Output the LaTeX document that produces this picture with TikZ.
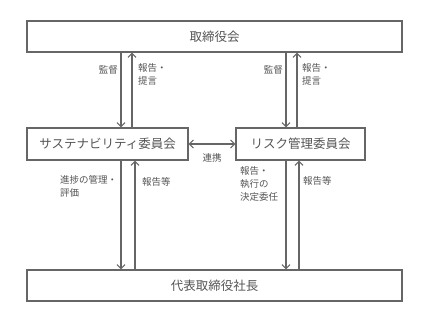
\documentclass[tikz,border=0pt]{standalone}
\usepackage{fontspec}
\setmainfont{Noto Sans CJK JP}
\usetikzlibrary{arrows.meta}
\definecolor{ln}{HTML}{666666}
\definecolor{tx}{HTML}{555555}
\begin{document}
\begin{tikzpicture}[x=1pt,y=-1pt,
  box/.style={draw=ln,line width=1.3pt,fill=white,inner sep=0pt,text=tx,font=\fontsize{12.5}{14}\selectfont},
  lbl/.style={text=tx,font=\fontsize{9.5}{13}\selectfont,inner sep=0pt,align=left},
  arr/.style={draw=ln,line width=1.3pt,-{Straight Barb[length=4pt,width=8pt,line width=1.1pt]}},
  dbl/.style={draw=ln,line width=1.3pt,{Straight Barb[length=4pt,width=8pt,line width=1.1pt]}-{Straight Barb[length=4pt,width=8pt,line width=1.1pt]}}]
\useasboundingbox (0,0) rectangle (428,325);
\node[box,minimum width=375pt,minimum height=31pt] (top) at (214.5,36.5) {取締役会};
\node[box,minimum width=161pt,minimum height=32pt] (sus) at (107.5,144) {サステナビリティ委員会};
\node[box,minimum width=129pt,minimum height=32pt] (risk) at (300.5,144) {リスク管理委員会};
\node[box,minimum width=375pt,minimum height=31pt] (ceo) at (214.5,285.5) {代表取締役社長};
% top to committees
\draw[arr] (top.south -| 121,0) -- (sus.north -| 121,0);
\draw[arr] (sus.north -| 132,0) -- (top.south -| 132,0);
\draw[arr] (top.south -| 286,0) -- (risk.north -| 286,0);
\draw[arr] (risk.north -| 297,0) -- (top.south -| 297,0);
% committees to ceo
\draw[arr] (sus.south -| 121,0) -- (ceo.north -| 121,0);
\draw[arr] (ceo.north -| 135,0) -- (sus.south -| 135,0);
\draw[arr] (risk.south -| 286,0) -- (ceo.north -| 286,0);
\draw[arr] (ceo.north -| 299,0) -- (risk.south -| 299,0);
\draw[dbl] (sus.east) -- (risk.west);
% labels
\node[lbl,anchor=east] (l1) at (118,70) {監督};
\node[lbl,anchor=north west] (l2) at (138,63.5) {報告・\\提言};
\node[lbl,anchor=east] (l3) at (283,70) {監督};
\node[lbl,anchor=north west] (l4) at (302,63.5) {報告・\\提言};
\node[lbl] (l5) at (212,158) {連携};
\node[lbl,anchor=north west] (l6) at (60,175.5) {進捗の管理・\\評価};
\node[lbl,anchor=west] (l7) at (142,182) {報告等};
\node[lbl,anchor=north west] (l8) at (240,166.5) {報告・\\執行の\\決定委任};
\node[lbl,anchor=west] (l9) at (303,181) {報告等};
\end{tikzpicture}
\end{document}
